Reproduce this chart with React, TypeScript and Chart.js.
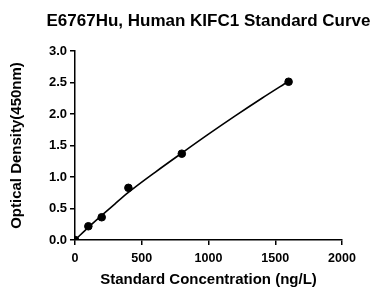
import React, { useEffect, useRef } from "react";
import { Chart, registerables } from "chart.js";

Chart.register(...registerables);

const chartTitle = "E6767Hu, Human KIFC1 Standard Curve";
const xAxisTitle = "Standard Concentration (ng/L)";
const yAxisTitle = "Optical Density(450nm)";

const concentrations = [0, 100, 200, 400, 800, 1600];
const densities = [0, 0.218, 0.361, 0.828, 1.37, 2.512];

const curveX = [0, 100, 200, 300, 400, 600, 800, 1000, 1200, 1400, 1600];
const curveY = [0, 0.2, 0.39, 0.575, 0.755, 1.075, 1.38, 1.68, 1.97, 2.25, 2.52];

const xTicks = [0, 500, 1000, 1500, 2000];
const yTicks = [0, 0.5, 1.0, 1.5, 2.0, 2.5, 3.0];

const FONT = "'Liberation Sans', Arial, sans-serif";

const titlePlugin = {
  id: "centeredTitle",
  afterDraw(chart: any) {
    const { ctx, chartArea } = chart;
    ctx.save();
    ctx.font = `bold 17px ${FONT}`;
    ctx.fillStyle = "#000";
    ctx.textAlign = "center";
    ctx.textBaseline = "middle";
    ctx.fillText(chartTitle, (chartArea.left + chartArea.right) / 2, 21);
    ctx.restore();
  },
};

export default function App() {
  const ref = useRef<HTMLCanvasElement | null>(null);

  useEffect(() => {
    if (!ref.current) return;
    Chart.defaults.font.family = FONT;
    const chart = new Chart(ref.current, {
      type: "scatter",
      data: {
        datasets: [
          {
            type: "line",
            data: curveX.map((x, i) => ({ x, y: curveY[i] })),
            borderColor: "#000",
            borderWidth: 1.6,
            pointRadius: 0,
            cubicInterpolationMode: "monotone",
            fill: false,
          } as any,
          {
            data: concentrations.map((x, i) => ({ x, y: densities[i] })),
            backgroundColor: "#000",
            borderColor: "#000",
            pointRadius: 3.8,
          },
        ],
      },
      plugins: [titlePlugin],
      options: {
        responsive: false,
        animation: false,
        layout: { padding: { left: 0, right: 32, top: 51, bottom: 0 } },
        plugins: {
          legend: { display: false },
          tooltip: { enabled: false },
          title: { display: false },
        },
        scales: {
          x: {
            type: "linear",
            min: 0,
            max: 2000,
            afterFit: (s: any) => {
              s.height = 49;
            },
            afterBuildTicks: (s: any) => {
              s.ticks = xTicks.map((v) => ({ value: v }));
            },
            ticks: {
              color: "#000",
              font: { family: FONT, size: 12.5, weight: "bold" },
              padding: 6,
              maxRotation: 0,
              callback: (v: any) => String(v),
            },
            grid: {
              drawOnChartArea: false,
              drawTicks: true,
              tickLength: 5,
              color: "#000",
              lineWidth: 1.5,
            },
            border: { color: "#000", width: 1.5 },
            title: {
              display: true,
              text: xAxisTitle,
              color: "#000",
              font: { family: FONT, size: 15, weight: "bold" },
              padding: { top: 0, bottom: 0 },
            },
          },
          y: {
            type: "linear",
            min: 0,
            max: 3,
            afterFit: (s: any) => {
              s.width = 75;
            },
            afterBuildTicks: (s: any) => {
              s.ticks = yTicks.map((v) => ({ value: v }));
            },
            ticks: {
              color: "#000",
              font: { family: FONT, size: 13, weight: "bold" },
              padding: 3,
              callback: (v: any) => Number(v).toFixed(1),
            },
            grid: {
              drawOnChartArea: false,
              drawTicks: true,
              tickLength: 5,
              color: "#000",
              lineWidth: 1.5,
            },
            border: { color: "#000", width: 1.5 },
            title: {
              display: true,
              text: yAxisTitle,
              color: "#000",
              font: { family: FONT, size: 15, weight: "bold" },
              padding: { top: 8, bottom: 0 },
            },
          },
        },
      },
    });
    return () => chart.destroy();
  }, []);

  return (
    <div style={{ position: "absolute", left: 0, top: 0, width: 374, height: 289, background: "#fff" }}>
      <canvas ref={ref} width={374} height={289} style={{ display: "block" }} />
    </div>
  );
}
